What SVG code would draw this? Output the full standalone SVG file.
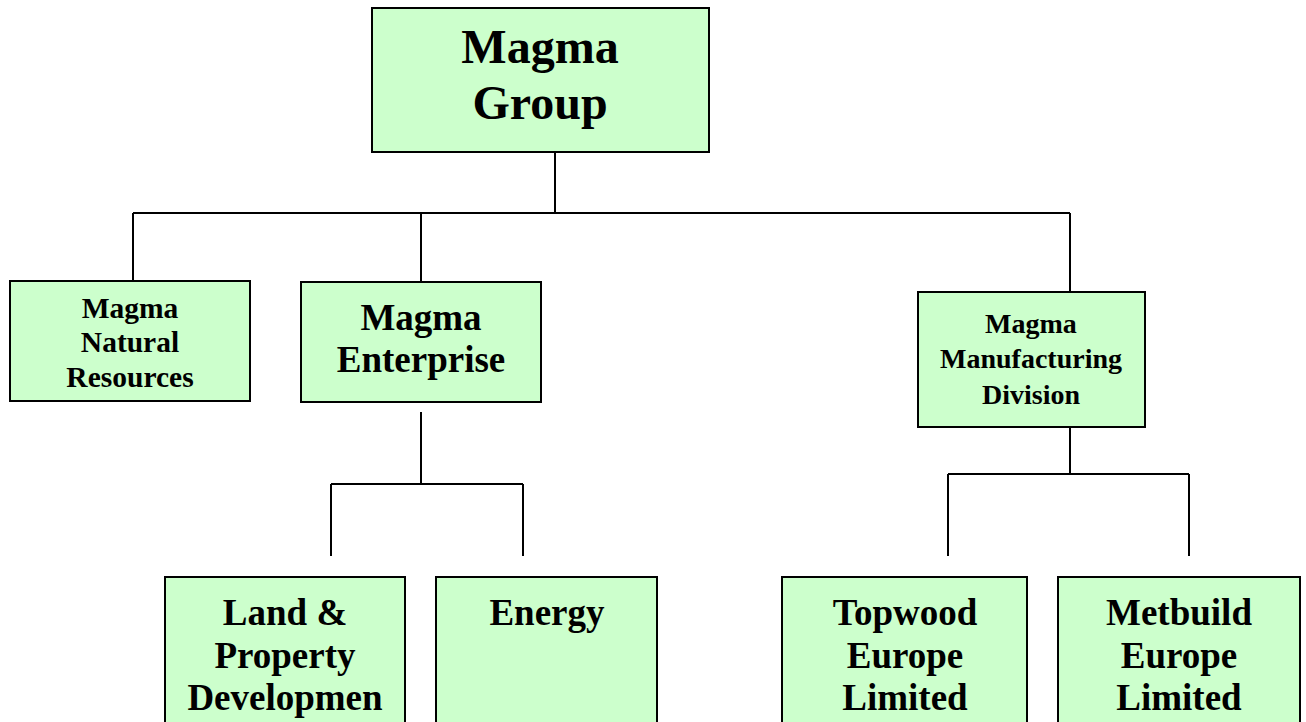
<svg xmlns="http://www.w3.org/2000/svg" width="1306" height="722" viewBox="0 0 1306 722">
<style>
.box{fill:#CCFFCC;stroke:#000;stroke-width:2}
.ln{fill:none;stroke:#000;stroke-width:2}
text{font-family:"Liberation Serif","Times New Roman",serif;font-weight:bold;fill:#000;text-anchor:middle}
.t48{font-size:48px}
.t37{font-size:37px}
.t28{font-size:28px}
.t30{font-size:29.5px}
</style>
<rect width="1306" height="722" fill="#fff"/>
<g id="connectors">
<path class="ln" d="M555,152V213M133,213H1070M133,213V281M421,213V282M1070,213V292"/>
<path class="ln" d="M421,412V484M331,484H523M331,484V556M523,484V556"/>
<path class="ln" d="M1070,427V474M948,474H1189M948,474V556M1189,474V556"/>
</g>
<g id="magma-group">
<rect class="box" x="372" y="8" width="337" height="144"/>
<text class="t48" x="540" y="63">Magma</text>
<text class="t48" x="540" y="119">Group</text>
</g>
<g id="natural-resources">
<rect class="box" x="10" y="281" width="240" height="120"/>
<text class="t30" x="130" y="318">Magma</text>
<text class="t30" x="130" y="352">Natural</text>
<text class="t30" x="130" y="387">Resources</text>
</g>
<g id="enterprise">
<rect class="box" x="301" y="282" width="240" height="120"/>
<text class="t37" x="421" y="330">Magma</text>
<text class="t37" x="421" y="372">Enterprise</text>
</g>
<g id="manufacturing">
<rect class="box" x="918" y="292" width="227" height="135"/>
<text class="t28" x="1031" y="333">Magma</text>
<text class="t28" x="1031" y="368">Manufacturing</text>
<text class="t28" x="1031" y="404">Division</text>
</g>
<g id="land-property">
<rect class="box" x="165" y="577" width="240" height="160"/>
<text class="t37" x="285" y="625">Land &amp;</text>
<text class="t37" x="285" y="668">Property</text>
<text class="t37" x="285" y="710">Developmen</text>
</g>
<g id="energy">
<rect class="box" x="436" y="577" width="221" height="160"/>
<text class="t37" x="547" y="625">Energy</text>
</g>
<g id="topwood">
<rect class="box" x="782" y="577" width="245" height="160"/>
<text class="t37" x="905" y="625">Topwood</text>
<text class="t37" x="905" y="668">Europe</text>
<text class="t37" x="905" y="710">Limited</text>
</g>
<g id="metbuild">
<rect class="box" x="1058" y="577" width="242" height="160"/>
<text class="t37" x="1179" y="625">Metbuild</text>
<text class="t37" x="1179" y="668">Europe</text>
<text class="t37" x="1179" y="710">Limited</text>
</g>
</svg>
